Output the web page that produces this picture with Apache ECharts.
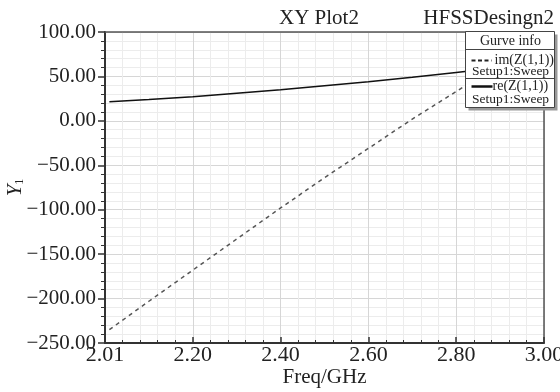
<!DOCTYPE html>
<html>
<head>
<meta charset="utf-8">
<script src="https://cdn.jsdelivr.net/npm/echarts@6/dist/echarts.min.js"></script>
<style>
  html, body { margin: 0; padding: 0; background: #fff; }
  #chart { width: 560px; height: 392px; }
</style>
</head>
<body>
<div id="chart"></div>
<script>
const freq = [2.01, 2.10, 2.20, 2.30, 2.40, 2.50, 2.60, 2.70, 2.80, 2.90, 3.00];
const imZ = [-235, -203, -168, -133, -98, -64, -31, 2, 33, 65, 96];
const reZ = [21.5, 24, 27, 31, 35, 39.5, 44, 49, 54.5, 60, 66];
const xTicks = [2.0, 2.2, 2.4, 2.6, 2.8, 3.0];
const xTickLabels = ['2.01', '2.20', '2.40', '2.60', '2.80', '3.00'];

const serif = '"Liberation Serif", "DejaVu Serif", serif';
const chart = echarts.init(document.getElementById('chart'));

const pairs = (ys) => freq.map((f, i) => [f, ys[i]]);
const frameAxis = { show: true, onZero: false, lineStyle: { color: '#555', width: 1.5 } };

chart.setOption({
    backgroundColor: '#fff',
    animation: false,
    grid: { left: 105, right: 16, top: 32, bottom: 49, outerBoundsMode: 'none', containLabel: false },
    xAxis: [{
        type: 'value',
        min: 2.0,
        max: 3.0,
        interval: 0.2,
        name: 'Freq/GHz',
        nameLocation: 'middle',
        nameGap: 24,
        nameMoveOverlap: false,
        nameTextStyle: { fontFamily: serif, fontSize: 21, color: '#222' },
        axisLine: { show: true, onZero: false, lineStyle: { color: '#333', width: 2 } },
        axisTick: { show: true, inside: true, length: 6, lineStyle: { color: '#333', width: 1.5 } },
        minorTick: { show: true, splitNumber: 5, length: 3, lineStyle: { color: '#333' } },
        axisLabel: {
            fontFamily: serif, fontSize: 22, color: '#222', margin: 1,
            formatter: (v) => {
                const i = xTicks.findIndex(t => Math.abs(t - v) < 1e-6);
                return i >= 0 ? xTickLabels[i] : '';
            }
        },
        splitLine: { show: true, lineStyle: { color: '#d6d6d6', width: 1 } },
        minorSplitLine: { show: true, lineStyle: { color: '#ececec', width: 1 } }
    }, {
        type: 'value', position: 'top', min: 2.0, max: 3.0,
        axisLine: frameAxis, axisTick: { show: false }, axisLabel: { show: false }, splitLine: { show: false }
    }],
    yAxis: [{
        type: 'value',
        min: -250,
        max: 100,
        interval: 50,
        name: '{a|Y}{b|1}',
        nameLocation: 'middle',
        nameRotate: 90,
        nameGap: 79,
        nameMoveOverlap: false,
        nameTextStyle: {
            rich: {
                a: { fontFamily: serif, fontSize: 21, fontStyle: 'italic', color: '#222' },
                b: { fontFamily: serif, fontSize: 12, color: '#222', padding: [10, 0, 0, 0] }
            }
        },
        axisLine: { show: true, onZero: false, lineStyle: { color: '#333', width: 2 } },
        axisTick: { show: true, length: 7, lineStyle: { color: '#333', width: 1.5 } },
        minorTick: { show: true, splitNumber: 5, length: 4, lineStyle: { color: '#333' } },
        axisLabel: {
            fontFamily: serif, fontSize: 21, color: '#222', margin: 9,
            formatter: (v) => v.toFixed(2).replace('-', '\u2212')
        },
        splitLine: { show: true, lineStyle: { color: '#d6d6d6', width: 1 } },
        minorSplitLine: { show: true, lineStyle: { color: '#ececec', width: 1 } }
    }, {
        type: 'value', position: 'right', min: -250, max: 100,
        axisLine: frameAxis, axisTick: { show: false }, axisLabel: { show: false }, splitLine: { show: false }
    }],
    series: [
        {
            name: 'im(Z(1,1))',
            type: 'line',
            data: pairs(imZ),
            showSymbol: false,
            lineStyle: { color: '#555', width: 1.5, type: [4, 4] },
            z: 3
        },
        {
            name: 're(Z(1,1))',
            type: 'line',
            data: pairs(reZ),
            showSymbol: false,
            lineStyle: { color: '#111', width: 1.5 },
            z: 3
        }
    ],
    graphic: [
        {
            type: 'text', left: 279, top: 8,
            style: { text: 'XY Plot2', fontFamily: serif, fontSize: 21, fill: '#222' }
        },
        {
            type: 'text', right: 6, top: 8,
            style: { text: 'HFSSDesingn2', fontFamily: serif, fontSize: 21, fill: '#222' }
        },
        {
            type: 'group', left: 463, top: 31, z: 100,
            children: [
                { type: 'rect', z: 100, shape: { x: 3, y: 3, width: 89, height: 76 }, style: { fill: '#999' } },
                { type: 'rect', z: 101, shape: { x: 0, y: 0, width: 89, height: 76 }, style: { fill: '#fff', stroke: '#444', lineWidth: 1 } },
                { type: 'line', z: 102, shape: { x1: 0, y1: 18, x2: 89, y2: 18 }, style: { stroke: '#444', lineWidth: 1 } },
                { type: 'line', z: 102, shape: { x1: 0, y1: 47, x2: 89, y2: 47 }, style: { stroke: '#444', lineWidth: 1 } },
                { type: 'text', z: 102, x: 45, y: 10, style: { text: 'Gurve info', fontFamily: serif, fontSize: 14, fill: '#222', align: 'center', verticalAlign: 'middle' } },
                { type: 'line', z: 102, shape: { x1: 6, y1: 29, x2: 26, y2: 29 }, style: { stroke: '#222', lineWidth: 2, lineDash: [4, 2.5] } },
                { type: 'text', z: 102, x: 29, y: 29, style: { text: 'im(Z(1,1))', fontFamily: serif, fontSize: 14, fill: '#222', verticalAlign: 'middle' } },
                { type: 'text', z: 102, x: 45, y: 40, style: { text: 'Setup1:Sweep', fontFamily: serif, fontSize: 13.5, fill: '#222', align: 'center', verticalAlign: 'middle' } },
                { type: 'line', z: 102, shape: { x1: 6, y1: 55, x2: 27, y2: 55 }, style: { stroke: '#111', lineWidth: 2.5 } },
                { type: 'text', z: 102, x: 27, y: 55, style: { text: 're(Z(1,1))', fontFamily: serif, fontSize: 14, fill: '#222', verticalAlign: 'middle' } },
                { type: 'text', z: 102, x: 45, y: 68, style: { text: 'Setup1:Sweep', fontFamily: serif, fontSize: 13.5, fill: '#222', align: 'center', verticalAlign: 'middle' } }
            ]
        }
    ]
});
</script>
</body>
</html>
